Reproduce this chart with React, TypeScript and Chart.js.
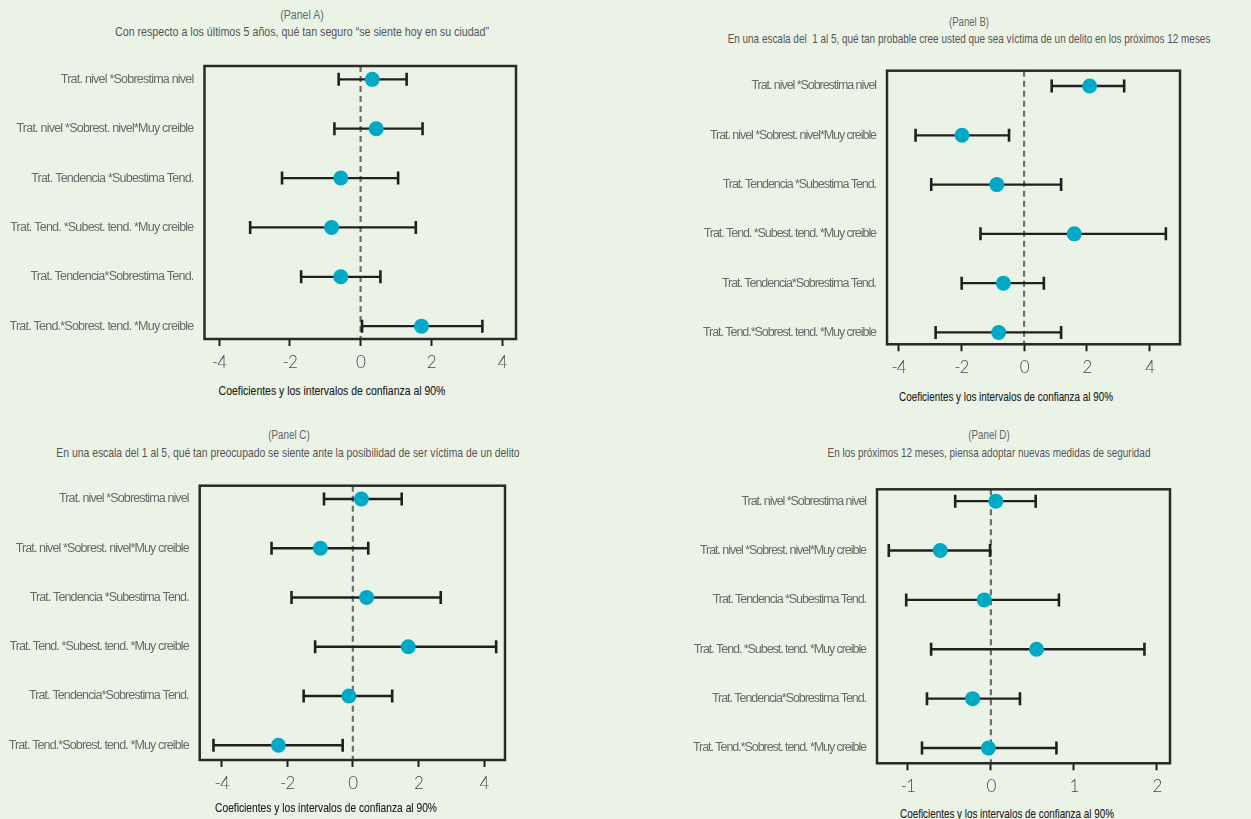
import React, { useEffect, useLayoutEffect, useRef } from "react";
import { Chart, registerables } from "chart.js";

Chart.register(...registerables);

// ---------- DATA ----------
const categories = [
  "Trat. nivel *Sobrestima nivel",
  "Trat. nivel *Sobrest. nivel*Muy creible",
  "Trat. Tendencia *Subestima Tend.",
  "Trat. Tend. *Subest. tend. *Muy creible",
  "Trat. Tendencia*Sobrestima Tend.",
  "Trat. Tend.*Sobrest. tend. *Muy creible",
];

const coefA = [0.33, 0.44, -0.56, -0.82, -0.56, 1.72];
const lowA = [-0.62, -0.74, -2.22, -3.12, -1.68, 0.04];
const highA = [1.3, 1.75, 1.06, 1.56, 0.56, 3.44];

const coefB = [2.09, -1.98, -0.87, 1.6, -0.66, -0.81];
const lowB = [0.88, -3.46, -2.96, -1.39, -1.99, -2.82];
const highB = [3.19, -0.48, 1.18, 4.52, 0.63, 1.18];

const coefC = [0.26, -0.99, 0.42, 1.69, -0.12, -2.27];
const lowC = [-0.88, -2.48, -1.87, -1.15, -1.5, -4.25];
const highC = [1.49, 0.47, 2.68, 4.37, 1.2, -0.31];

const coefD = [0.06, -0.61, -0.08, 0.55, -0.22, -0.03];
const lowD = [-0.43, -1.23, -1.02, -0.72, -0.77, -0.83];
const highD = [0.54, -0.01, 0.82, 1.85, 0.35, 0.79];

const ticksWide = [-4, -2, 0, 2, 4];
const ticksNarrow = [-1, 0, 1, 2];

const panelTags = ["(Panel A)", "(Panel B)", "(Panel C)", "(Panel D)"];
const panelQuestions = [
  "Con respecto a los últimos 5 años, qué tan seguro “se siente hoy en su ciudad”",
  "En una escala del  1 al 5, qué tan probable cree usted que sea víctima de un delito en los próximos 12 meses",
  "En una escala del 1 al 5, qué tan preocupado se siente ante la posibilidad de ser víctima de un delito",
  "En los próximos 12 meses, piensa adoptar nuevas medidas de seguridad",
];
const xAxisTitle = "Coeficientes y los intervalos de confianza al 90%";

// ---------- STYLE / LAYOUT ----------
const BG = "#EAF3E6";
const TEAL = "#00A9C5";
const DARK = "#231F20";
const FONT = "'Liberation Sans', Arial, sans-serif";
const LABEL_SIZE = 12.5;

type Txt = { x: number; y: number; w: number };
type PanelCfg = {
  coef: number[];
  low: number[];
  high: number[];
  ticks: number[];
  xMin: number;
  xMax: number;
  yMin: number;
  yMax: number;
  box: { l: number; t: number; r: number; b: number };
  canvasLeft: number;
  longestLabelW: number;
  tag: Txt;
  question: Txt;
  xTitle: Txt;
};

const panels: PanelCfg[] = [
  {
    coef: coefA, low: lowA, high: highA, ticks: ticksWide,
    xMin: -4.41, xMax: 4.39, yMin: -0.27, yMax: 5.26,
    box: { l: 204.5, t: 66, r: 516, b: 339 }, canvasLeft: 0, longestLabelW: 184,
    tag: { x: 302, y: 14.5, w: 43 }, question: { x: 302, y: 31, w: 374 }, xTitle: { x: 331.7, y: 390, w: 227 },
  },
  {
    coef: coefB, low: lowB, high: highB, ticks: ticksWide,
    xMin: -4.37, xMax: 4.97, yMin: -0.31, yMax: 5.24,
    box: { l: 887, t: 70.7, r: 1180.3, b: 344.3 }, canvasLeft: 690, longestLabelW: 173,
    tag: { x: 969.3, y: 21.7, w: 40 }, question: { x: 969, y: 37.7, w: 483 }, xTitle: { x: 1006.3, y: 396, w: 214 },
  },
  {
    coef: coefC, low: lowC, high: highC, ticks: ticksWide,
    xMin: -4.67, xMax: 4.64, yMin: -0.27, yMax: 5.3,
    box: { l: 199.7, t: 485.7, r: 505.3, b: 760 }, canvasLeft: 0, longestLabelW: 180,
    tag: { x: 288.5, y: 435.3, w: 41.7 }, question: { x: 288.3, y: 452.3, w: 463 }, xTitle: { x: 325.8, y: 806.7, w: 222 },
  },
  {
    coef: coefD, low: lowD, high: highD, ticks: ticksNarrow,
    xMin: -1.372, xMax: 2.158, yMin: -0.24, yMax: 5.31,
    box: { l: 877, t: 489.3, r: 1170.3, b: 763.3 }, canvasLeft: 690, longestLabelW: 173,
    tag: { x: 989, y: 435.3, w: 41.7 }, question: { x: 989.3, y: 452.3, w: 323 }, xTitle: { x: 1007, y: 812.7, w: 214 },
  },
];

const PAD_T = 24;
const PAD_R = 12;
const X_AXIS_H = 40;

function fitSpacing(font: string, text: string, target: number) {
  const ctx = document.createElement("canvas").getContext("2d");
  if (!ctx) return 0;
  ctx.font = font;
  const w = ctx.measureText(text).width;
  return (target - w) / text.length;
}

const boxPlugin = {
  id: "boxFrame",
  afterDraw(chart: any) {
    const { ctx, chartArea } = chart;
    ctx.save();
    ctx.strokeStyle = "#2a2a2a";
    ctx.lineWidth = 2.5;
    ctx.strokeRect(chartArea.left, chartArea.top, chartArea.right - chartArea.left, chartArea.bottom - chartArea.top);
    ctx.restore();
  },
};

function Panel({ cfg }: { cfg: PanelCfg }) {
  const ref = useRef<HTMLCanvasElement | null>(null);
  const canvasTop = Math.round(cfg.box.t - PAD_T);
  const padTop = cfg.box.t - canvasTop;
  const width = Math.round(cfg.box.r + PAD_R - cfg.canvasLeft);
  const height = Math.round(cfg.box.b + X_AXIS_H - canvasTop);
  const xAxisH = height - (cfg.box.b - canvasTop);
  const yAxisW = cfg.box.l - cfg.canvasLeft;

  useEffect(() => {
    if (!ref.current) return;
    const longest = categories[categories.length - 1];
    const ls = fitSpacing(`${LABEL_SIZE}px ${FONT}`, longest, cfg.longestLabelW);
    const spacingPlugin = {
      id: "spacing",
      beforeUpdate(chart: any) {
        chart.ctx.letterSpacing = `${ls}px`;
      },
      beforeDraw(chart: any) {
        chart.ctx.letterSpacing = `${ls}px`;
      },
    };
    const errorSets = categories.map((_, i) => ({
      type: "line" as const,
      data: [
        { x: cfg.low[i], y: i },
        { x: cfg.high[i], y: i },
      ],
      borderColor: DARK,
      borderWidth: 2.3,
      pointStyle: "line" as const,
      rotation: 90,
      pointRadius: 6.5,
      pointBorderColor: DARK,
      pointBorderWidth: 2.6,
      showLine: true,
      order: 1,
    }));
    const chart = new Chart(ref.current, {
      type: "scatter",
      data: {
        datasets: [
          {
            type: "scatter" as const,
            data: cfg.coef.map((v, i) => ({ x: v, y: i })),
            backgroundColor: TEAL,
            borderWidth: 0,
            pointRadius: 7.5,
            order: 0,
          },
          ...errorSets,
          {
            type: "line" as const,
            data: [
              { x: 0, y: cfg.yMin },
              { x: 0, y: cfg.yMax },
            ],
            borderColor: "#6e6e6e",
            borderWidth: 2.2,
            borderDash: [6, 4],
            pointRadius: 0,
            showLine: true,
            order: 2,
          },
        ] as any,
      },
      options: {
        animation: false,
        responsive: false,
        devicePixelRatio: 1,
        layout: { padding: { top: padTop, right: PAD_R, left: 0, bottom: 0 } },
        plugins: { legend: { display: false }, tooltip: { enabled: false } },
        scales: {
          x: {
            type: "linear",
            min: cfg.xMin,
            max: cfg.xMax,
            afterBuildTicks: (s: any) => {
              s.ticks = cfg.ticks.map((v) => ({ value: v }));
            },
            afterFit: (s: any) => {
              s.height = xAxisH;
            },
            grid: {
              display: true,
              drawOnChartArea: false,
              drawTicks: true,
              tickLength: 7,
              tickWidth: 2,
              tickColor: DARK,
            },
            border: { display: true, color: "#2a2a2a", width: 2 },
            ticks: {
              color: "#4a4a4a",
              padding: 6,
              font: { family: "Lato, 'Open Sans', sans-serif", size: 17, weight: "300" as any },
              callback: (v: any) => String(v),
            },
          },
          y: {
            type: "linear",
            reverse: true,
            min: cfg.yMin,
            max: cfg.yMax,
            afterBuildTicks: (s: any) => {
              s.ticks = categories.map((_, i) => ({ value: i }));
            },
            afterFit: (s: any) => {
              s.width = yAxisW;
            },
            grid: { display: false, drawTicks: false, tickLength: 0 },
            border: { display: false },
            ticks: {
              color: "#6a6a6a",
              padding: 11,
              font: { family: FONT, size: LABEL_SIZE },
              callback: (v: any) => categories[v as number] ?? "",
            },
          },
        },
      },
      plugins: [spacingPlugin, boxPlugin],
    });
    return () => chart.destroy();
  }, [cfg]);

  return (
    <canvas
      ref={ref}
      width={width}
      height={height}
      style={{ position: "absolute", left: cfg.canvasLeft, top: canvasTop, width, height }}
    />
  );
}

function FitLabel({ t, text, size, color, stroke }: { t: Txt; text: string; size: number; color: string; stroke?: string }) {
  const ref = useRef<HTMLDivElement | null>(null);
  useLayoutEffect(() => {
    const el = ref.current;
    if (!el) return;
    const w = el.offsetWidth;
    if (w > 0) el.style.transform = `translate(-50%, -50%) scaleX(${t.w / w})`;
  }, [t, text]);
  return (
    <div
      ref={ref}
      style={{
        position: "absolute",
        left: t.x,
        top: t.y,
        transform: "translate(-50%, -50%)",
        whiteSpace: "pre",
        fontFamily: FONT,
        fontSize: size,
        color,
        lineHeight: 1,
        WebkitTextStroke: stroke,
      }}
    >
      {text}
    </div>
  );
}

export default function App() {
  return (
    <div
      style={{
        position: "absolute",
        left: 0,
        top: 0,
        width: 1251,
        height: 819,
        background: BG,
        overflow: "hidden",
      }}
    >
      {panels.map((p, i) => (
        <React.Fragment key={i}>
          <Panel cfg={p} />
          <FitLabel t={p.tag} text={panelTags[i]} size={12} color="#666" />
          <FitLabel t={p.question} text={panelQuestions[i]} size={13} color="#555" />
          <FitLabel t={p.xTitle} text={xAxisTitle} size={13} color="#1e1e1e" stroke="0.12px #1e1e1e" />
        </React.Fragment>
      ))}
    </div>
  );
}
